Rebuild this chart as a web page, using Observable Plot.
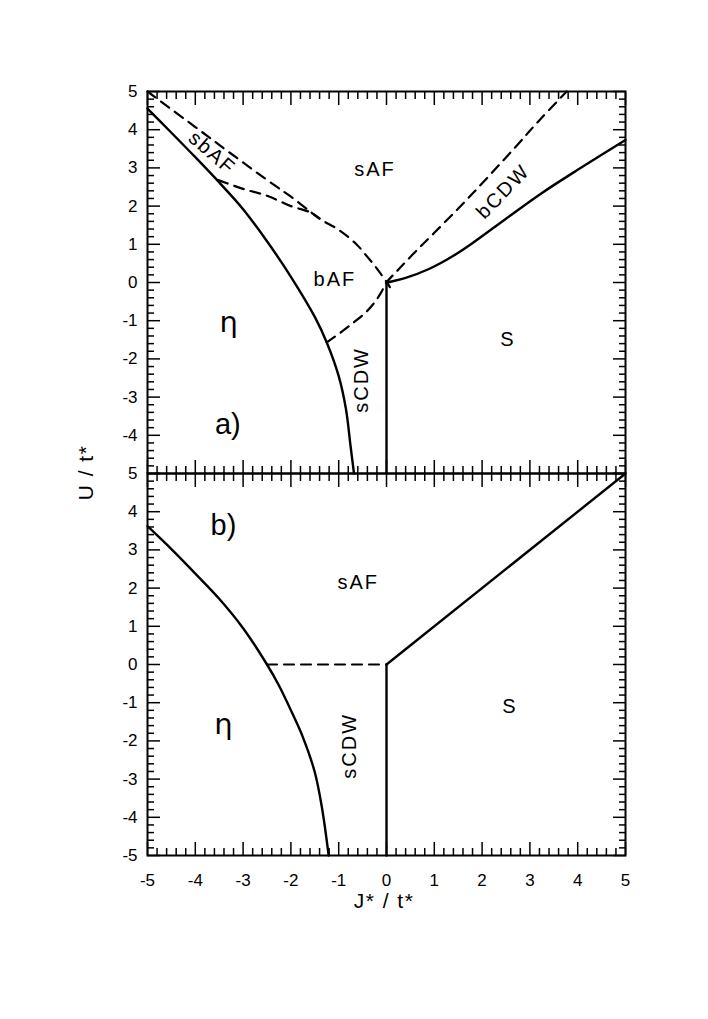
<!DOCTYPE html>
<html><head><meta charset="utf-8">
<script src="https://cdn.jsdelivr.net/npm/d3@7"></script>
<script src="https://cdn.jsdelivr.net/npm/@observablehq/plot@0.6"></script>
<style>
html,body{margin:0;padding:0;background:#fff;}
#wrap{position:relative;width:708px;height:1019px;}
#wrap svg{position:absolute;left:0;font-family:"Liberation Sans",Arial,Helvetica,sans-serif;background:transparent !important;overflow:visible !important;max-width:none !important;}
</style></head><body>
<div id="wrap"></div>
<script>
// ---------- axis tick values ----------
const xMajor = [-5,-4,-3,-2,-1,0,1,2,3,4,5];
const yMajor = [-5,-4,-3,-2,-1,0,1,2,3,4,5];
const yLabelsA = [-4,-3,-2,-1,0,1,2,3,4,5];
const yLabelsB = [-5,-4,-3,-2,-1,0,1,2,3,4,5];
const minorTicks = d3.range(-50, 51, 2).map(d => d / 10).filter(d => !Number.isInteger(d));

// ---------- panel a) series ----------
const aEtaJ = [-5,-4.5,-4,-3.5,-3,-2.5,-2,-1.5,-1.25,-1,-0.85,-0.75,-0.68];
const aEtaU = [4.55,3.92,3.28,2.62,1.92,1.08,0.15,-0.9,-1.57,-2.45,-3.3,-4.3,-5];
const aUpperDashJ = [-5,-4,-3.27,-2.36,-2,-1.6,-1.39,-1,-0.62,-0.38,-0.24,-0.1,0,0.07];
const aUpperDashU = [5,4.07,3.39,2.56,2.25,1.86,1.66,1.38,0.99,0.64,0.43,0.19,0.02,-0.12];
const aLowerDashJ = [-3.52,-3,-2.5,-2,-1.6,-1.4];
const aLowerDashU = [2.68,2.45,2.27,2,1.84,1.68];
const aDiagDashJ = [-1.25,-0.95,-0.69,-0.45,-0.28,-0.12,0,0.25,0.6,1,1.81,2.7,3.2,3.77];
const aDiagDashU = [-1.57,-1.3,-1.05,-0.8,-0.57,-0.28,0,0.34,0.8,1.3,2.34,3.55,4.25,5];
const aCdwJ = [0,0.15,0.4,0.9,1.4,1.81,2.5,3.2,4,5];
const aCdwU = [0,0.04,0.12,0.36,0.7,1.04,1.67,2.3,2.95,3.73];
const aVertJ = [0,0];
const aVertU = [0,-5];

// ---------- panel b) series ----------
const bEtaJ = [-5,-4.5,-4,-3.5,-3,-2.5,-2.25,-2,-1.75,-1.5,-1.35,-1.21];
const bEtaU = [3.62,3.02,2.38,1.72,0.95,0,-0.55,-1.2,-1.9,-2.82,-3.75,-5];
const bDashJ = [-2.5,0];
const bDashU = [0,0];
const bVertJ = [0,0];
const bVertU = [0,-5];
const bDiagJ = [0,5];
const bDiagU = [0,5];

// ---------- labels ----------
const aRegionText = ["sbAF","sAF","bCDW","bAF","S","sCDW"];
const aRegionJ = [-3.65,-0.24,2.44,-1.08,2.54,-0.52];
const aRegionU = [3.39,2.95,2.38,0.08,-1.49,-2.55];
const aEtaText = ["η"];
const aEtaLJ = [-3.3];
const aEtaLU = [-1.05];
const aPanelText = ["a)"];
const aPanelJ = [-3.32];
const aPanelU = [-3.71];
const bRegionText = ["sAF","sCDW","S"];
const bRegionJ = [-0.59,-0.78,2.58];
const bRegionU = [2.14,-2.13,-1.1];
const bEtaText = ["η"];
const bEtaLJ = [-3.41];
const bEtaLU = [-1.58];
const bPanelText = ["b)"];
const bPanelJ = [-3.41];
const bPanelU = [3.63];

const pts = (J, U) => J.map((j, i) => ({J: j, U: U[i]}));
const lbl = (T, J, U) => T.map((t, i) => ({t, J: J[i], U: U[i]}));
const rot = {sbAF: 41, bCDW: -46, sCDW: -90};
const regionSet = new Set([...aRegionText, ...bRegionText]);

const solid = {x: "J", y: "U", curve: "catmull-rom", strokeWidth: 2.4, stroke: "black"};
const dashed = {...solid, strokeWidth: 2.2, strokeDasharray: "10,7"};

function frameTicks() {
  const w = 1.5;
  return [
    Plot.axisX(minorTicks, {anchor: "bottom", tickSize: -7, fill: "none", label: null, strokeWidth: w}),
    Plot.axisX(xMajor, {anchor: "bottom", tickSize: -13, fill: "none", label: null, strokeWidth: w}),
    Plot.axisX(minorTicks, {anchor: "top", tickSize: -7, fill: "none", label: null, strokeWidth: w}),
    Plot.axisX(xMajor, {anchor: "top", tickSize: -13, fill: "none", label: null, strokeWidth: w}),
    Plot.axisY(minorTicks, {anchor: "left", tickSize: -7, fill: "none", label: null, strokeWidth: w}),
    Plot.axisY(yMajor, {anchor: "left", tickSize: -13, fill: "none", label: null, strokeWidth: w}),
    Plot.axisY(minorTicks, {anchor: "right", tickSize: -7, fill: "none", label: null, strokeWidth: w}),
    Plot.axisY(yMajor, {anchor: "right", tickSize: -13, fill: "none", label: null, strokeWidth: w}),
    Plot.frame({strokeWidth: 2, stroke: "black"})
  ];
}

const common = {
  width: 708,
  marginLeft: 147,
  marginRight: 83,
  x: {domain: [-5, 5]},
  y: {domain: [-5, 5]}
};

const regionOpts = {x: "J", y: "U", text: "t", fontSize: 20, fill: "black",
  rotate: d => rot[d.t] || 0};
const etaOpts = {x: "J", y: "U", text: "t", fontSize: 29, fill: "black", fontFamily: "DejaVu Sans"};
const panelOpts = {x: "J", y: "U", text: "t", fontSize: 29, fill: "black"};
const tickLabel = {fontSize: 17, label: null, tickSize: 0, tickFormat: d => String(d)};

const panelA = Plot.plot({
  ...common,
  height: 473,
  marginTop: 91,
  marginBottom: 0,
  marks: [
    ...frameTicks(),
    Plot.axisY(yLabelsA, {...tickLabel, anchor: "left", tickPadding: 10}),
    Plot.line(pts(aEtaJ, aEtaU), solid),
    Plot.line(pts(aCdwJ, aCdwU), solid),
    Plot.line(pts(aVertJ, aVertU), {...solid, curve: "linear"}),
    Plot.line(pts(aUpperDashJ, aUpperDashU), dashed),
    Plot.line(pts(aLowerDashJ, aLowerDashU), dashed),
    Plot.line(pts(aDiagDashJ, aDiagDashU), dashed),
    Plot.text(lbl(aRegionText, aRegionJ, aRegionU), regionOpts),
    Plot.text(lbl(aEtaText, aEtaLJ, aEtaLU), etaOpts),
    Plot.text(lbl(aPanelText, aPanelJ, aPanelU), panelOpts)
  ]
});

const panelB = Plot.plot({
  ...common,
  height: 546,
  marginTop: 0,
  marginBottom: 164,
  marks: [
    ...frameTicks(),
    Plot.axisY(yLabelsB, {...tickLabel, anchor: "left", tickPadding: 10}),
    Plot.axisX(xMajor, {...tickLabel, anchor: "bottom", tickPadding: 18}),
    Plot.line(pts(bEtaJ, bEtaU), solid),
    Plot.line(pts(bVertJ, bVertU), {...solid, curve: "linear"}),
    Plot.line(pts(bDiagJ, bDiagU), {...solid, curve: "linear"}),
    Plot.line(pts(bDashJ, bDashU), {...dashed, curve: "linear"}),
    Plot.text(lbl(bRegionText, bRegionJ, bRegionU), regionOpts),
    Plot.text(lbl(bEtaText, bEtaLJ, bEtaLU), etaOpts),
    Plot.text(lbl(bPanelText, bPanelJ, bPanelU), panelOpts)
  ]
});

for (const p of [panelA, panelB]) {
  d3.select(p).selectAll("text")
    .filter(function() { return regionSet.has(this.textContent); })
    .style("letter-spacing", "2px");
}

const wrap = document.getElementById("wrap");
panelA.style.top = "0px";
panelB.style.top = "473px";
wrap.appendChild(panelA);
wrap.appendChild(panelB);

// axis titles
const ns = "http://www.w3.org/2000/svg";
const ov = document.createElementNS(ns, "svg");
ov.setAttribute("width", 708);
ov.setAttribute("height", 1019);
ov.style.top = "0px";
ov.style.pointerEvents = "none";
const t1 = document.createElementNS(ns, "text");
t1.setAttribute("x", 384);
t1.setAttribute("y", 907.5);
t1.setAttribute("text-anchor", "middle");
t1.setAttribute("font-size", 21);
t1.setAttribute("letter-spacing", "1.5");
t1.textContent = "J* / t*";
const t2 = document.createElementNS(ns, "text");
t2.setAttribute("transform", "translate(93.3,472.5) rotate(-90)");
t2.setAttribute("text-anchor", "middle");
t2.setAttribute("font-size", 21);
t2.setAttribute("letter-spacing", "1.5");
t2.textContent = "U / t*";
ov.appendChild(t1);
ov.appendChild(t2);
wrap.appendChild(ov);
</script>
</body></html>
